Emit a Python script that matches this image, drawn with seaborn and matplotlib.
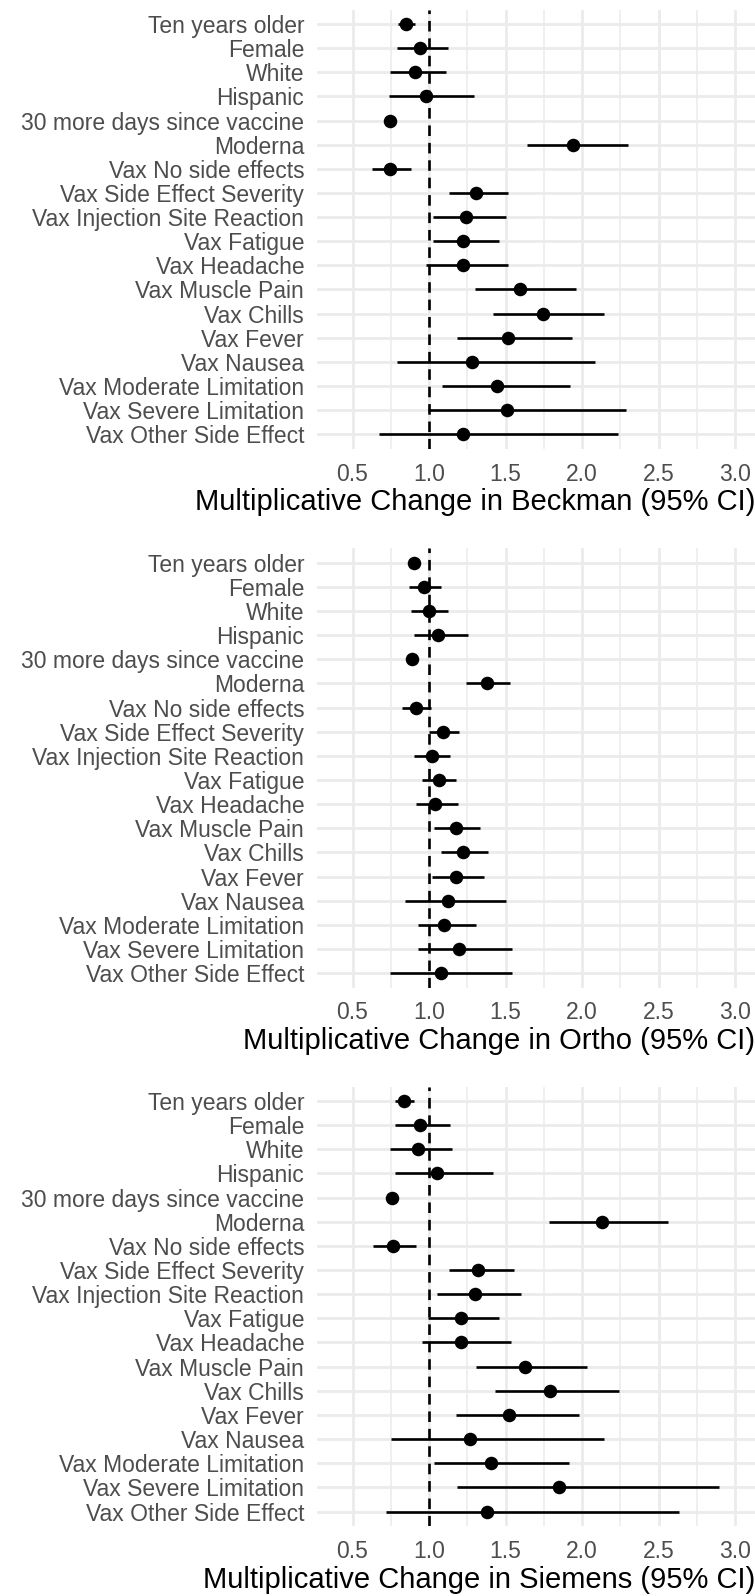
import matplotlib
matplotlib.use("Agg")
import matplotlib.pyplot as plt
import seaborn as sns
import pandas as pd

# Términos del modelo (de arriba hacia abajo)
terminos = [
    "Ten years older", "Female", "White", "Hispanic",
    "30 more days since vaccine", "Moderna", "Vax No side effects",
    "Vax Side Effect Severity", "Vax Injection Site Reaction", "Vax Fatigue",
    "Vax Headache", "Vax Muscle Pain", "Vax Chills", "Vax Fever",
    "Vax Nausea", "Vax Moderate Limitation", "Vax Severe Limitation",
    "Vax Other Side Effect",
]

# Beckman
beckman_est = [0.851, 0.942, 0.909, 0.979, 0.746, 1.942, 0.746, 1.308, 1.240,
               1.219, 1.219, 1.595, 1.743, 1.515, 1.282, 1.445, 1.508, 1.225]
beckman_lo = [0.794, 0.790, 0.742, 0.737, 0.735, 1.639, 0.628, 1.129, 1.023,
              1.023, 0.977, 1.299, 1.415, 1.186, 0.790, 1.086, 0.996, 0.670]
beckman_hi = [0.909, 1.121, 1.112, 1.297, 0.757, 2.301, 0.885, 1.517, 1.506,
              1.456, 1.513, 1.961, 2.146, 1.935, 2.083, 1.918, 2.286, 2.236]

# Ortho
ortho_est = [0.901, 0.968, 0.999, 1.060, 0.888, 1.380, 0.914, 1.092, 1.018,
             1.064, 1.042, 1.173, 1.221, 1.177, 1.123, 1.101, 1.199, 1.075]
ortho_lo = [0.890, 0.872, 0.883, 0.899, 0.878, 1.243, 0.824, 1.003, 0.903,
            0.955, 0.914, 1.035, 1.075, 1.020, 0.840, 0.927, 0.931, 0.746]
ortho_hi = [0.912, 1.075, 1.123, 1.253, 0.898, 1.530, 1.014, 1.195, 1.140,
            1.179, 1.188, 1.330, 1.386, 1.362, 1.502, 1.308, 1.539, 1.539]

# Siemens
siemens_est = [0.835, 0.938, 0.927, 1.049, 0.755, 2.133, 0.764, 1.323, 1.301,
               1.206, 1.210, 1.630, 1.789, 1.524, 1.269, 1.406, 1.850, 1.382]
siemens_lo = [0.779, 0.779, 0.746, 0.777, 0.742, 1.781, 0.633, 1.129, 1.055,
              0.994, 0.957, 1.306, 1.428, 1.173, 0.753, 1.034, 1.182, 0.722]
siemens_hi = [0.899, 1.134, 1.153, 1.421, 0.768, 2.560, 0.918, 1.552, 1.604,
              1.456, 1.534, 2.033, 2.242, 1.983, 2.142, 1.913, 2.895, 2.636]

ensayos = ["Beckman", "Ortho", "Siemens"]
ticks_x = [0.5, 1.0, 1.5, 2.0, 2.5, 3.0]
ticks_menores = [0.75, 1.25, 1.75, 2.25, 2.75]

sns.set_theme(style="whitegrid")
plt.rcParams["font.family"] = ["Liberation Sans", "DejaVu Sans"]

datos = {
    "Beckman": (beckman_est, beckman_lo, beckman_hi),
    "Ortho": (ortho_est, ortho_lo, ortho_hi),
    "Siemens": (siemens_est, siemens_lo, siemens_hi),
}

W, H = 755, 1596
fig = plt.figure(figsize=(W / 100, H / 100), dpi=100)

# posiciones de los paneles en píxeles (arriba, abajo)
paneles = [(9.5, 448.8), (548.2, 987.6), (1086.5, 1526.0)]
izq, der = 316.7, 755.0

for nombre, (arriba, abajo) in zip(ensayos, paneles):
    est, lo, hi = datos[nombre]
    df = pd.DataFrame({"Termino": terminos, "Estimado": est, "Bajo": lo, "Alto": hi})
    df["pos"] = range(len(df))

    ax = fig.add_axes([izq / W, 1 - abajo / H, (der - izq) / W, (abajo - arriba) / H])
    ax.axvline(1.0, color="black", linestyle=(0, (4, 2.6)), linewidth=1.9, zorder=2)
    ax.hlines(df["pos"], df["Bajo"], df["Alto"], color="black", linewidth=1.9, zorder=3)
    sns.scatterplot(data=df, x="Estimado", y="pos", color="black", s=95,
                    edgecolor="black", linewidth=0, zorder=4, ax=ax)

    ax.set_yticks(df["pos"])
    ax.set_yticklabels(terminos)
    ax.set_ylim(len(df) - 0.4, -0.6)
    ax.set_xlim(0.266, 3.13)
    ax.set_xticks(ticks_x)
    ax.set_xticklabels([f"{t:.1f}" for t in ticks_x])
    ax.set_xticks(ticks_menores, minor=True)

    ax.grid(which="major", color="#EBEBEB", linewidth=2.0)
    ax.grid(which="minor", axis="x", color="#EBEBEB", linewidth=1.1)
    for s in ax.spines.values():
        s.set_visible(False)
    ax.tick_params(axis="both", which="both", length=0, labelsize=16.5, labelcolor="#4D4D4D")
    ax.tick_params(axis="y", pad=9)
    ax.tick_params(axis="x", pad=10)
    ax.set_ylabel("")
    ax.set_xlabel(f"Multiplicative Change in {nombre} (95% CI)", fontsize=21,
                  color="black", loc="right", labelpad=2)

fig.savefig("out.png", dpi=100)
